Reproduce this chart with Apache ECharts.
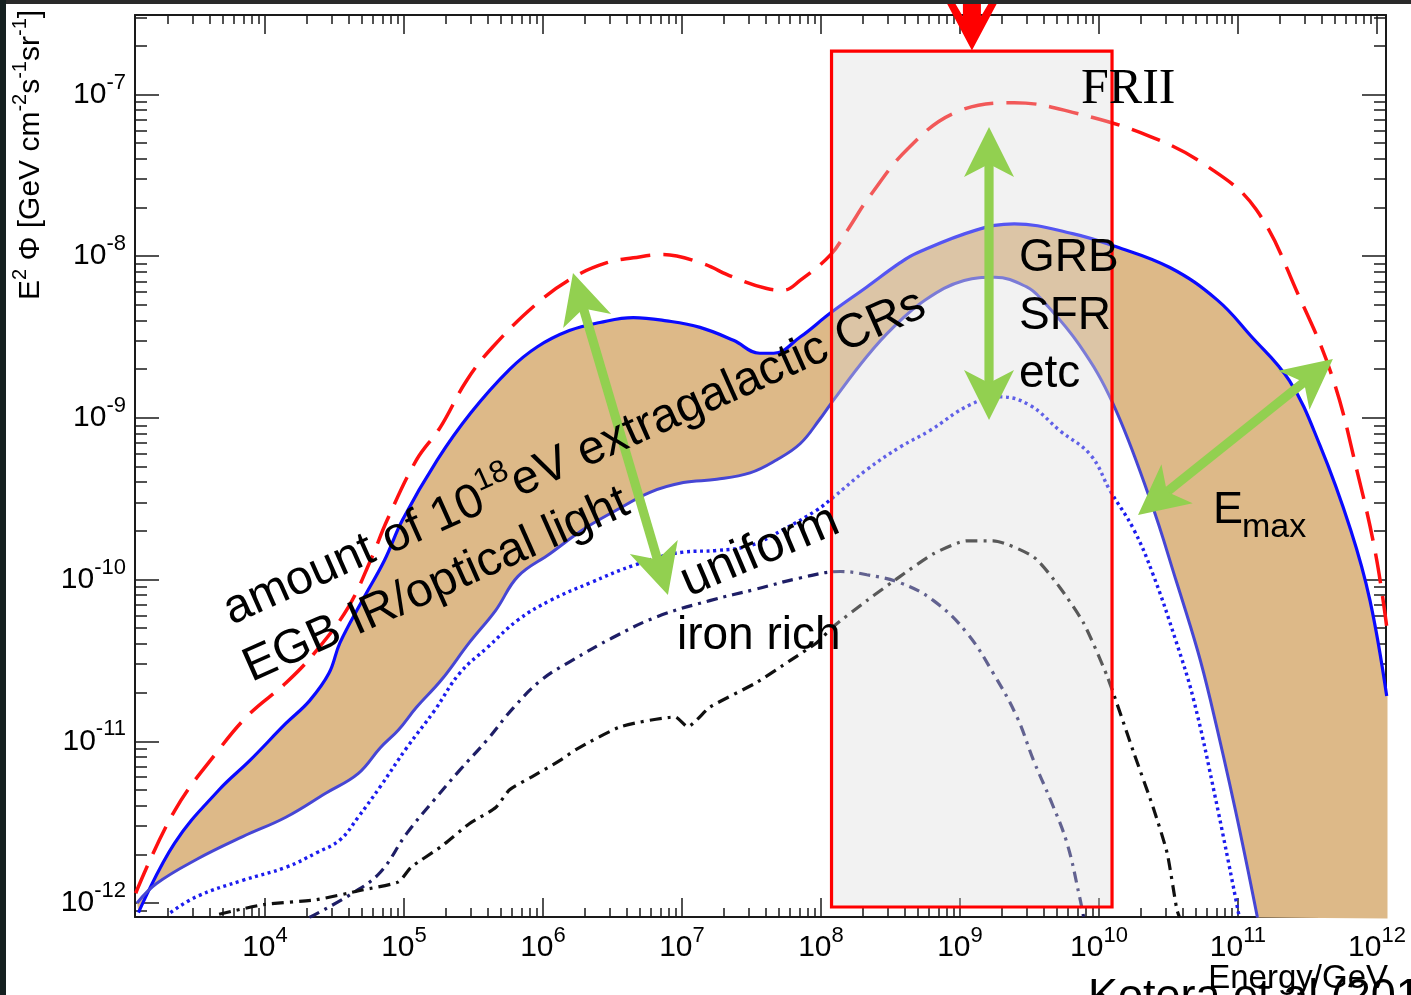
<!DOCTYPE html>
<html><head><meta charset="utf-8">
<script src="https://cdn.jsdelivr.net/npm/echarts@6/dist/echarts.min.js"></script>
<style>html,body{margin:0;padding:0;background:#fff;overflow:hidden}#c{width:1411px;height:995px}</style>
</head><body><div id="c"></div><script>
// ---------- data (log10 E/GeV , log10 E^2 Phi) ----------
const friiX = [3.07,3.35,3.67,3.89,4.15,4.37,4.60,4.76,4.88,5.09,5.26,5.45,5.64,5.96,6.22,6.46,6.65,6.86,7.13,7.37,7.61,7.73,7.85,8.07,8.19,8.35,8.63,8.97,9.39,9.81,10.37,10.79,11.13,11.44,11.68,11.86,11.99,12.07];
const friiY = [-11.94,-11.43,-11.05,-10.83,-10.64,-10.44,-10.17,-9.88,-9.63,-9.26,-9.06,-8.77,-8.56,-8.29,-8.13,-8.04,-8.01,-7.99,-8.04,-8.13,-8.20,-8.21,-8.15,-7.99,-7.84,-7.63,-7.33,-7.11,-7.05,-7.11,-7.26,-7.45,-7.71,-8.25,-8.75,-9.34,-9.84,-10.29];
const upperX = [3.09,3.35,3.67,3.89,4.15,4.32,4.46,4.54,4.70,4.86,4.99,5.24,5.48,5.76,5.96,6.19,6.41,6.65,6.89,7.13,7.37,7.56,7.66,7.85,8.07,8.33,8.57,8.69,9.11,9.39,9.81,10.12,10.51,10.85,11.09,11.37,11.59,11.81,11.95,12.07];
const upperY = [-12.06,-11.63,-11.30,-11.12,-10.89,-10.75,-10.58,-10.39,-10.13,-9.88,-9.63,-9.26,-8.97,-8.70,-8.56,-8.46,-8.41,-8.38,-8.40,-8.44,-8.52,-8.60,-8.60,-8.50,-8.35,-8.19,-8.04,-7.98,-7.84,-7.80,-7.86,-7.94,-8.07,-8.27,-8.49,-8.77,-9.17,-9.69,-10.13,-10.72];
const lowerX = [3.08,3.22,3.51,3.84,4.15,4.44,4.67,4.83,4.96,5.09,5.27,5.47,5.66,5.82,6.05,6.29,6.53,6.77,7.01,7.25,7.49,7.68,7.85,7.99,8.09,8.33,8.52,8.75,9.03,9.25,9.48,9.59,9.86,10.10,10.37,10.56,10.71,10.80,10.98,11.14];
const lowerY = [-12.00,-11.88,-11.73,-11.59,-11.47,-11.32,-11.20,-11.04,-10.93,-10.79,-10.62,-10.39,-10.19,-9.98,-9.84,-9.69,-9.57,-9.46,-9.40,-9.38,-9.34,-9.26,-9.16,-9.01,-8.89,-8.62,-8.44,-8.27,-8.15,-8.13,-8.19,-8.27,-8.55,-8.91,-9.51,-10.02,-10.44,-10.74,-11.42,-12.09];
const dottedX = [3.32,3.51,3.84,4.15,4.37,4.54,4.67,4.83,5.02,5.22,5.40,5.60,5.82,6.05,6.34,6.66,7.01,7.25,7.49,7.73,7.97,8.09,8.33,8.57,8.78,9.07,9.29,9.50,9.72,9.94,10.08,10.25,10.39,10.55,10.68,10.84,11.01];
const dottedY = [-12.06,-11.96,-11.86,-11.78,-11.69,-11.61,-11.47,-11.28,-11.04,-10.81,-10.58,-10.42,-10.25,-10.13,-10.02,-9.91,-9.83,-9.82,-9.79,-9.69,-9.57,-9.49,-9.32,-9.18,-9.08,-8.92,-8.87,-8.92,-9.08,-9.23,-9.45,-9.69,-9.97,-10.37,-10.74,-11.36,-12.09];
const navyX = [4.32,4.63,4.83,5.02,5.22,5.40,5.60,5.79,5.99,6.21,6.50,6.82,7.20,7.53,7.85,8.14,8.33,8.57,8.81,9.05,9.24,9.41,9.53,9.65,9.77,9.86,9.89];
const navyY = [-12.09,-11.94,-11.81,-11.57,-11.36,-11.18,-10.99,-10.79,-10.62,-10.50,-10.36,-10.23,-10.13,-10.06,-9.99,-9.95,-9.97,-10.02,-10.13,-10.33,-10.58,-10.85,-11.12,-11.36,-11.63,-11.96,-12.09];
const blackX = [3.67,3.99,4.37,4.70,4.96,5.05,5.27,5.47,5.66,5.76,5.92,6.12,6.24,6.56,6.95,7.04,7.20,7.53,7.78,7.97,8.09,8.33,8.57,8.81,9.05,9.24,9.53,9.72,9.89,10.06,10.25,10.39,10.49,10.56,10.58];
const blackY = [-12.07,-12.01,-11.98,-11.92,-11.87,-11.78,-11.65,-11.51,-11.41,-11.30,-11.22,-11.12,-11.05,-10.91,-10.85,-10.91,-10.79,-10.64,-10.50,-10.39,-10.29,-10.13,-9.98,-9.84,-9.76,-9.76,-9.86,-10.05,-10.27,-10.60,-11.07,-11.41,-11.69,-12.04,-12.09];
// highlighted energy window [x1,y1,x2,y2]
const boxRange = [[8.076, -6.731, 10.094, -12.025]];
// green double arrows [x1,y1,x2,y2]
const greenArrows = [[6.216,-8.104,6.899,-10.095],[9.209,-7.201,9.209,-9.013],[11.683,-8.636,10.281,-9.600]];
// red pointer tip
const redTip = [[9.086,-6.728]];
// tick labels (exponents)
const xMajor = [4,5,6,7,8,9,10,11,12];
const yMajor = [-12,-11,-10,-9,-8,-7];

// ---------- layout ----------
const X_MIN = 3.065, X_MAX = 12.065, Y_MIN = -12.087, Y_MAX = -6.508;
const SMOOTH = 0.4;
const F = '"Liberation Sans", Arial, sans-serif';
const AX = '#1a1a1a';
function minor(lo, hi){const o=[];for(let n=Math.floor(lo)-1;n<=Math.ceil(hi);n++){for(let k=2;k<=9;k++){const v=n+Math.log10(k);if(v>lo&&v<hi)o.push(v);}}return o;}
const xMinor = minor(X_MIN,X_MAX), yMinor = minor(Y_MIN,Y_MAX);
const zip=(a,b)=>a.map((v,i)=>[v,b[i]]);
const labRich = {b:{fontSize:30,fontFamily:F,lineHeight:46,color:'#000'},s:{fontSize:22,fontFamily:F,lineHeight:22,verticalAlign:'top',color:'#000'}};
const fmt = v => '{b|10}{s|' + Math.round(v) + '}';
function xAx(pos, vals, len, label, line){
  return {type:'value', position:pos, min:X_MIN, max:X_MAX, gridIndex:0,
    axisLine:{show:line, onZero:false, lineStyle:{color:AX,width:2}},
    axisTick:{show:true, inside:true, length:len, customValues:vals, lineStyle:{color:AX,width:1.5}},
    axisLabel:{show:label, customValues:vals, formatter:fmt, rich:labRich, margin:8},
    splitLine:{show:false}};
}
function yAx(pos, vals, len, label, line){
  return {type:'value', position:pos, min:Y_MIN, max:Y_MAX, gridIndex:0,
    axisLine:{show:line, onZero:false, lineStyle:{color:AX,width:2}},
    axisTick:{show:true, inside:true, length:len, customValues:vals, lineStyle:{color:AX,width:1.5}},
    axisLabel:{show:label, customValues:vals, formatter:fmt, rich:labRich, margin:9},
    splitLine:{show:false}};
}
function lineS(name, xs, ys, color, width, type, smooth){
  return {name, type:'line', data:zip(xs,ys), xAxisIndex:0, yAxisIndex:0, symbol:'none', showSymbol:false,
    smooth: smooth, clip:true, z:3, silent:true, lineStyle:{color, width, type, cap:'butt'}};
}
// replicate the line series' bezier smoothing (pixel space) so the band edge follows the drawn lines
function smoothSegs(P, s){
  const segs=[]; let prevX, prevY, cpx0, cpy0, cpx1, cpy1, ncx, ncy; const n=P.length;
  for(let k=0;k<n;k++){
    const x=P[k][0], y=P[k][1];
    if(k===0){cpx0=x;cpy0=y;}
    else{
      if(k>=n-1){cpx1=x;cpy1=y;}
      else{
        const nx=P[k+1][0], ny=P[k+1][1];
        let vx=nx-prevX, vy=ny-prevY;
        const lp=Math.hypot(x-prevX,y-prevY), ln=Math.hypot(nx-x,ny-y);
        const r=ln/(ln+lp);
        ncx=x+vx*s*r; ncy=y+vy*s*r;
        ncx=Math.min(ncx,Math.max(nx,x)); ncy=Math.min(ncy,Math.max(ny,y));
        ncx=Math.max(ncx,Math.min(nx,x)); ncy=Math.max(ncy,Math.min(ny,y));
        vx=ncx-x; vy=ncy-y;
        cpx1=x-vx*lp/ln; cpy1=y-vy*lp/ln;
        cpx1=Math.min(cpx1,Math.max(prevX,x)); cpy1=Math.min(cpy1,Math.max(prevY,y));
        cpx1=Math.max(cpx1,Math.min(prevX,x)); cpy1=Math.max(cpy1,Math.min(prevY,y));
        vx=x-cpx1; vy=y-cpy1;
        ncx=x+vx*ln/lp; ncy=y+vy*ln/lp;
      }
      segs.push([[prevX,prevY],[cpx0,cpy0],[cpx1,cpy1],[x,y]]);
      cpx0=ncx; cpy0=ncy;
    }
    prevX=x; prevY=y;
  }
  return segs;
}
function bez(sg,t){const u=1-t;return [0,1].map(i=>u*u*u*sg[0][i]+3*u*u*t*sg[1][i]+3*u*t*t*sg[2][i]+t*t*t*sg[3][i]);}
const GREEN = '#92d050';
function txt(x,y,rotDeg,text,size,opts){
  opts = opts||{};
  const st = {text, x:0, y:-0.3465*size, fill:'#000', align:opts.align||'left', verticalAlign:'middle',
    font: size+'px '+(opts.family||F)};
  if(opts.rich) st.rich = opts.rich;
  return {type:'text', x, y, rotation:rotDeg*Math.PI/180, z:20, style:st};
}
const chart = echarts.init(document.getElementById('c'), null, {renderer:'canvas'});
chart.setOption({
  animation:false,
  backgroundColor:'#ffffff',
  grid:{left:135, right:25, top:15, bottom:78, outerBoundsMode:'none', containLabel:false},
  xAxis:[xAx('bottom',xMajor,19,true,true), xAx('bottom',xMinor,9,false,false), xAx('top',xMajor,19,false,true), xAx('top',xMinor,9,false,false)],
  yAxis:[yAx('left',yMajor,24,true,true), yAx('left',yMinor,12,false,false), yAx('right',yMajor,24,false,true), yAx('right',yMinor,12,false,false)],
  series:[
    {type:'custom', name:'band', coordinateSystem:'cartesian2d', xAxisIndex:0, yAxisIndex:0, z:2, silent:true,
     data:[[upperX[0], upperY[0]]],
     renderItem:(p, api)=>{
       const up = upperX.map((x,i)=>api.coord([x, upperY[i]]));
       const lo = lowerX.map((x,i)=>api.coord([x, lowerY[i]]));
       const pts = [up[0]];
       smoothSegs(up, SMOOTH).forEach(sg=>{for(let j=1;j<=12;j++) pts.push(bez(sg,j/12));});
       const c = api.coord([X_MAX, Y_MIN]);
       pts.push([c[0]+1.5, up[up.length-1][1]]);
       pts.push([c[0]+1.5, c[1]+1.5]);
       const ls = smoothSegs(lo, SMOOTH);
       pts.push(lo[lo.length-1]);
       for(let k=ls.length-1;k>=0;k--){for(let j=11;j>=0;j--) pts.push(bez(ls[k],j/12));}
       return {type:'polygon', shape:{points:pts}, style:{fill:'#ddb988'}};
     }},
    lineS('FRII', friiX, friiY, '#ff1010', 3.5, [30,13], SMOOTH),
    lineS('upper', upperX, upperY, '#0a0aff', 3.2, 'solid', SMOOTH),
    lineS('lower', lowerX, lowerY, '#4646d4', 3, 'solid', SMOOTH),
    lineS('dotted', dottedX, dottedY, '#1c1cee', 3.4, [3,3.6], SMOOTH),
    lineS('navy', navyX, navyY, '#1e1e66', 3.2, [11,6,3,6], SMOOTH),
    lineS('black', blackX, blackY, '#101010', 3.2, [12,6,3,6], 0.2),
    {type:'custom', name:'box', coordinateSystem:'cartesian2d', z:4, silent:true,
     encode:{x:[0,2], y:[1,3]}, data:boxRange,
     renderItem:(p, api)=>{
       const a = api.coord([api.value(0), api.value(1)]), b = api.coord([api.value(2), api.value(3)]);
       return {type:'rect', shape:{x:a[0], y:a[1], width:b[0]-a[0], height:b[1]-a[1]},
         style:{fill:'rgba(220,220,220,0.36)', stroke:'#ff0000', lineWidth:3.2}};
     }},
    {type:'custom', name:'arrows', coordinateSystem:'cartesian2d', z:5, silent:true,
     encode:{x:[0,2], y:[1,3]}, data:greenArrows,
     renderItem:(p, api)=>{
       const a = api.coord([api.value(0), api.value(1)]), b = api.coord([api.value(2), api.value(3)]);
       const dx=b[0]-a[0], dy=b[1]-a[1], L=Math.hypot(dx,dy), ux=dx/L, uy=dy/L, nx=-uy, ny=ux;
       const H=50, W=25, N=13, S=4.6;
       const head=(t,d)=>{const bx=t[0]-d[0]*H, by=t[1]-d[1]*H;
         return [[t[0],t[1]],[bx+nx*W,by+ny*W],[t[0]-d[0]*(H-N),t[1]-d[1]*(H-N)],[bx-nx*W,by-ny*W]];};
       const k=H-N-2;
       const s0=[a[0]+ux*k,a[1]+uy*k], s1=[b[0]-ux*k,b[1]-uy*k];
       const shaft=[[s0[0]+nx*S,s0[1]+ny*S],[s1[0]+nx*S,s1[1]+ny*S],[s1[0]-nx*S,s1[1]-ny*S],[s0[0]-nx*S,s0[1]-ny*S]];
       return {type:'group', children:[
         {type:'polygon', shape:{points:shaft}, style:{fill:GREEN}},
         {type:'polygon', shape:{points:head(b,[ux,uy])}, style:{fill:GREEN}},
         {type:'polygon', shape:{points:head(a,[-ux,-uy])}, style:{fill:GREEN}}]};
     }},
    {type:'custom', name:'pointer', coordinateSystem:'cartesian2d', z:6, silent:true, data:redTip,
     renderItem:(p, api)=>{
       const t = api.coord([api.value(0), api.value(1)]);
       const rel=[[0,0],[29.7,-56],[21.9,-56],[9,-34],[9,-60],[-9,-60],[-9,-34],[-21.9,-56],[-29.7,-56]];
       return {type:'polygon', shape:{points:rel.map(r=>[t[0]+r[0], t[1]+r[1]])}, style:{fill:'#ff0000'}};
     }}
  ],
  graphic:[
    {type:'rect', shape:{x:0,y:0,width:1411,height:4}, style:{fill:'#2a2a2a'}, z:30},
    {type:'rect', shape:{x:0,y:0,width:6,height:995}, style:{fill:'#152020'}, z:30},
    txt(233,628,24,'{b|amount of 10}{s|18}{b|eV extragalactic CRs}',48,{rich:{b:{fontSize:48,fontFamily:F,lineHeight:64,color:'#000'},s:{fontSize:31,fontFamily:F,lineHeight:34,verticalAlign:'top',color:'#000'}}}),
    txt(253,685,24,'EGB IR/optical light',48),
    txt(690,600,23,'uniform',50),
    txt(677,652,0,'iron rich',46),
    txt(1019,274,0,'GRB',46),
    txt(1019,332,0,'SFR',46),
    txt(1019,390,0,'etc',46),
    txt(1081,107,0,'FRII',50,{family:'"Liberation Serif", "Times New Roman", serif'}),
    txt(1213,526,0,'E',45),
    txt(1242,539,0,'max',34),
    txt(1088,1013,0,'Kotera et al (2010)',45),
    txt(1388,990,0,'Energy/GeV',33,{align:'right'}),
    txt(41,300,90,'{b|E}{s|2}{b| \u03a6 [GeV cm}{s|-2}{b|s}{s|-1}{b|sr}{s|-1}{b|]}',30,{rich:{b:{fontSize:30,fontFamily:F,lineHeight:40,color:'#000'},s:{fontSize:20,fontFamily:F,lineHeight:20,verticalAlign:'top',color:'#000'}}})
  ]
});
</script></body></html>
